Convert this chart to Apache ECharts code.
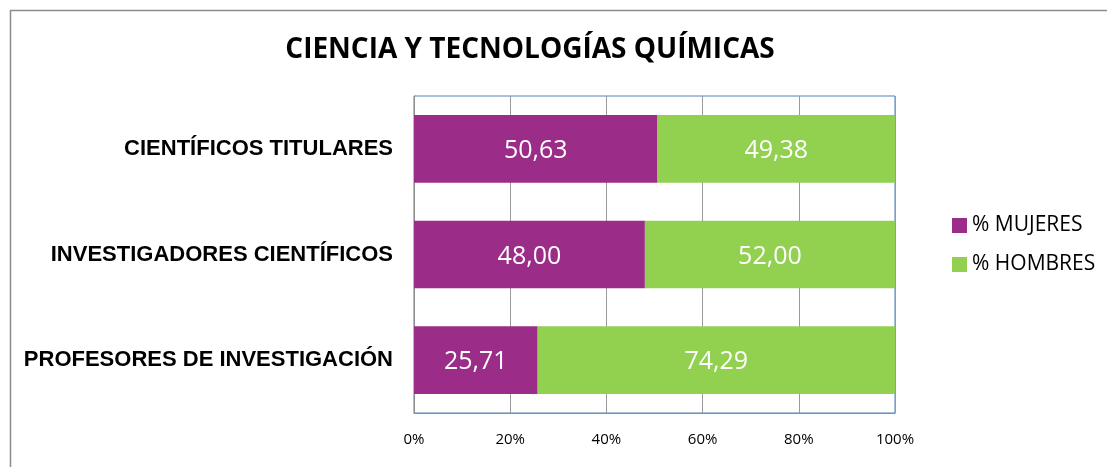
<!DOCTYPE html>
<html><head><meta charset="utf-8">
<script src="https://cdn.jsdelivr.net/npm/echarts@6/dist/echarts.min.js"></script>
<style>html,body{margin:0;padding:0;background:#fff}#c{width:1107px;height:467px}</style>
</head><body><div id="c"></div>
<script>
const categories = ['PROFESORES DE INVESTIGACIÓN', 'INVESTIGADORES CIENTÍFICOS', 'CIENTÍFICOS TITULARES'];
const mujeres = [25.71, 48.00, 50.63];
const hombres = [74.29, 52.00, 49.38];
const seriesNames = ['% MUJERES', '% HOMBRES'];
const colors = ['#9B2D89', '#92D050'];

const chart = echarts.init(document.getElementById('c'), null, {renderer: 'canvas'});
const fmt = v => v.value.toFixed(2).replace('.', ',');
const labelStyle = {show: true, position: 'inside', color: '#fff', fontSize: 25, fontFamily: 'Open Sans, Liberation Sans, sans-serif', formatter: fmt, offset: [0, 2]};
chart.setOption({
  animation: false,
  title: {text: 'CIENCIA Y TECNOLOGÍAS QUÍMICAS', left: 525, top: 31, textAlign: 'center',
    textStyle: {fontSize: 28, fontWeight: 'bold', color: '#000', fontFamily: 'Open Sans, Liberation Sans, sans-serif'}},
  graphic: [{type: 'rect', shape: {x: 10.5, y: 10.5, width: 1200, height: 600}, style: {fill: 'none', stroke: '#8c8c8c', lineWidth: 1.5}, z: -1}],
  legend: {orient: 'vertical', left: 947, top: 210, itemWidth: 15, itemHeight: 15, itemGap: 18, icon: 'rect',
    textStyle: {fontSize: 21, color: '#000', fontFamily: 'Open Sans, Liberation Sans, sans-serif'}, data: seriesNames},
  grid: {left: 414, top: 96, width: 481, height: 317, show: true, borderColor: '#4F81BD', borderWidth: 1},
  xAxis: {type: 'value', min: 0, max: 100, interval: 20,
    axisLine: {show: true, lineStyle: {color: '#8c8c8c'}}, axisTick: {show: false},
    splitLine: {show: true, lineStyle: {color: '#9a9a9a'}},
    axisLabel: {formatter: '{value}%', fontSize: 15, color: '#000', margin: 19, fontFamily: 'Open Sans, Liberation Sans, sans-serif'}},
  yAxis: {type: 'category', data: categories,
    axisLine: {show: true, lineStyle: {color: '#8c8c8c'}}, axisTick: {show: false},
    axisLabel: {fontSize: 22, fontWeight: 'bold', color: '#000', margin: 21, fontFamily: 'Liberation Sans, Arial, sans-serif'}},
  series: [
    {name: seriesNames[0], type: 'bar', stack: 't', data: mujeres, barCategoryGap: '36%', itemStyle: {color: colors[0]}, label: labelStyle},
    {name: seriesNames[1], type: 'bar', stack: 't', data: hombres, barCategoryGap: '36%', itemStyle: {color: colors[1]}, label: labelStyle}
  ]
});
</script></body></html>
